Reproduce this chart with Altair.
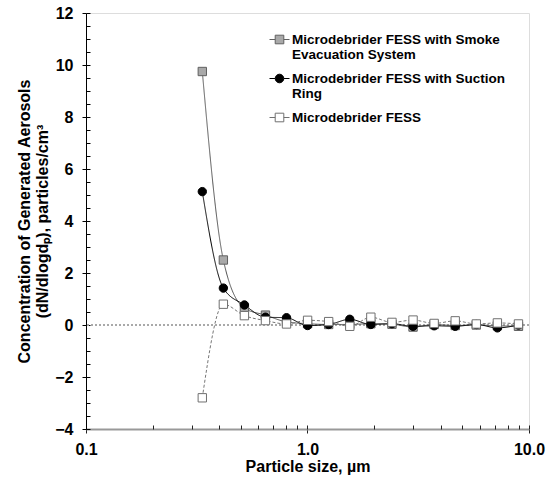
import altair as alt
import pandas as pd

# ---- data ----
sizes = [0.335, 0.417, 0.519, 0.646, 0.804, 1.001, 1.246, 1.552, 1.932,
         2.406, 2.996, 3.730, 4.644, 5.782, 7.198, 8.962]
smoke = [9.75, 2.50, 0.65, 0.38, 0.12, 0.05, 0.02, 0.02, 0.05,
         0.03, -0.08, 0.02, -0.02, 0.00, -0.03, -0.05]
suction = [5.13, 1.42, 0.77, 0.30, 0.28, -0.02, 0.02, 0.22, 0.02,
           0.05, -0.05, -0.03, -0.05, 0.02, -0.11, 0.00]
fess = [-2.80, 0.80, 0.36, 0.17, 0.04, 0.18, 0.13, -0.05, 0.30,
        0.10, 0.19, 0.06, 0.16, 0.04, 0.08, 0.04]
series_names = ["Microdebrider FESS with Smoke Evacuation System",
                "Microdebrider FESS with Suction Ring",
                "Microdebrider FESS"]
y_major = [-4, -2, 0, 2, 4, 6, 8, 10, 12]
y_minor = [v / 2 for v in range(-8, 25)]
x_major = [0.1, 1.0, 10.0]
x_minor = [m * d for d in (0.1, 1.0) for m in range(1, 10)] + [10.0]

rows = []
for name, vals in zip(series_names, [smoke, suction, fess]):
    for s, v in zip(sizes, vals):
        rows.append({"size": s, "value": v, "series": name})
df = pd.DataFrame(rows)

FONT = "Liberation Sans"
fill_range = ["#a9a9a9", "#000000", "#ffffff"]
stroke_range = ["#606060", "#000000", "#707070"]

x_scale = alt.Scale(type="log", domain=[0.1, 10], nice=False)
y_scale = alt.Scale(domain=[-4, 12], nice=False, zero=False)

x_main_axis = alt.Axis(
    values=x_major, labelExpr="format(datum.value, '.1f')", grid=False,
    tickSize=4, tickColor="#222", domainColor="#999", domainWidth=2,
    labelFont=FONT, labelFontSize=16, labelFontWeight="bold", labelColor="black",
    labelPadding=8, labelFlush=False,
    title="Particle size, µm", titleFont=FONT, titleFontSize=16,
    titleFontWeight="bold", titleColor="black", titleY=42,
    titleBaseline="alphabetic", orient="bottom")
y_main_axis = alt.Axis(
    values=y_major, format="d", grid=False, tickSize=4, tickColor="black",
    domainColor="black", domainWidth=1,
    labelFont=FONT, labelFontSize=16, labelFontWeight="bold", labelColor="black",
    labelPadding=9,
    title=["Concentration of Generated Aerosols", "(dN/dlogdₚ), particles/cm³"],
    titleFont=FONT, titleFontSize=16, titleFontWeight="bold", titleColor="black",
    titleLineHeight=18, titleX=-62, titleY=208, titleBaseline="middle",
    titleAngle=270, orient="left")

# inward minor ticks (majors included, so major ticks cross the axis line)
x_minor_axis = alt.Axis(values=x_minor, labels=False, domain=False, grid=False,
                        tickSize=4, tickColor="#222", tickWidth=1, offset=-4,
                        title=None, orient="bottom")
y_minor_axis = alt.Axis(values=y_minor, labels=False, domain=False, grid=False,
                        tickSize=4, tickColor="black", tickWidth=1, offset=-4,
                        title=None, orient="left")

zero_line = alt.Chart(df).mark_rule(
    color="#aaa", strokeDash=[2, 2], strokeWidth=0.7
).encode(y=alt.datum(0, scale=y_scale, axis=None))

lines = alt.Chart(df).mark_line(strokeWidth=1, interpolate="monotone").encode(
    x=alt.X("size:Q", scale=x_scale, axis=x_main_axis),
    y=alt.Y("value:Q", scale=y_scale, axis=y_main_axis),
    color=alt.Color("series:N", scale=alt.Scale(
        domain=series_names, range=["#555555", "#000000", "#777777"]), legend=None),
    strokeDash=alt.StrokeDash("series:N", scale=alt.Scale(
        domain=series_names, range=[[1, 0], [1, 0], [3, 2]]), legend=None),
    detail="series:N",
)

points = alt.Chart(df).mark_point(filled=True, size=70, strokeWidth=1, opacity=1).encode(
    x=alt.X("size:Q", scale=x_scale, axis=x_minor_axis),
    y=alt.Y("value:Q", scale=y_scale, axis=y_minor_axis),
    shape=alt.Shape("series:N", scale=alt.Scale(
        domain=series_names, range=["square", "circle", "square"]), legend=None),
    fill=alt.Fill("series:N", scale=alt.Scale(
        domain=series_names, range=fill_range), legend=None),
    stroke=alt.Stroke("series:N", scale=alt.Scale(
        domain=series_names, range=stroke_range), legend=None),
)

# legend-only layer (no marks drawn; explicit domains drive the legend)
label_expr = (
    "datum.label == 'Microdebrider FESS with Smoke Evacuation System' ? "
    "['Microdebrider FESS with Smoke', 'Evacuation System'] : "
    "datum.label == 'Microdebrider FESS with Suction Ring' ? "
    "['Microdebrider FESS with Suction', 'Ring'] : datum.label"
)
sq_path = "M-1,0H-0.43M0.43,0H1M-0.43,-0.43H0.43V0.43H-0.43Z"
ci_path = "M-1,0H-0.43M0.43,0H1M0.43,0A0.43,0.43 0 1,1 -0.43,0A0.43,0.43 0 1,1 0.43,0Z"
leg = alt.Legend(
    title=None, orient="none", legendX=183, legendY=16,
    symbolSize=400, symbolStrokeWidth=1, symbolOpacity=1, labelOffset=2,
    labelFont=FONT, labelFontSize=13.5, labelFontWeight="bold",
    labelColor="black", labelLimit=400, labelExpr=label_expr,
    labelBaseline="middle", rowPadding=6,
)
legend_layer = alt.Chart(df).transform_filter("false").mark_point(
    filled=True, strokeWidth=1
).encode(
    shape=alt.Shape("series:N", scale=alt.Scale(
        domain=series_names, range=[sq_path, ci_path, sq_path]), legend=leg),
    fill=alt.Fill("series:N", scale=alt.Scale(
        domain=series_names, range=fill_range), legend=leg),
    stroke=alt.Stroke("series:N", scale=alt.Scale(
        domain=series_names, range=stroke_range), legend=leg),
)

chart = alt.layer(zero_line, lines, points, legend_layer).resolve_axis(
    x="independent", y="independent"
).resolve_scale(
    shape="independent", fill="independent", stroke="independent"
).properties(
    width=443, height=416,
    padding={"left": 86, "top": 13, "right": 25, "bottom": 51},
    autosize=alt.AutoSizeParams(type="none"),
).configure_view(stroke=None).configure(font=FONT)

chart.save("out.html", embed_options={"renderer": "svg", "actions": False})
